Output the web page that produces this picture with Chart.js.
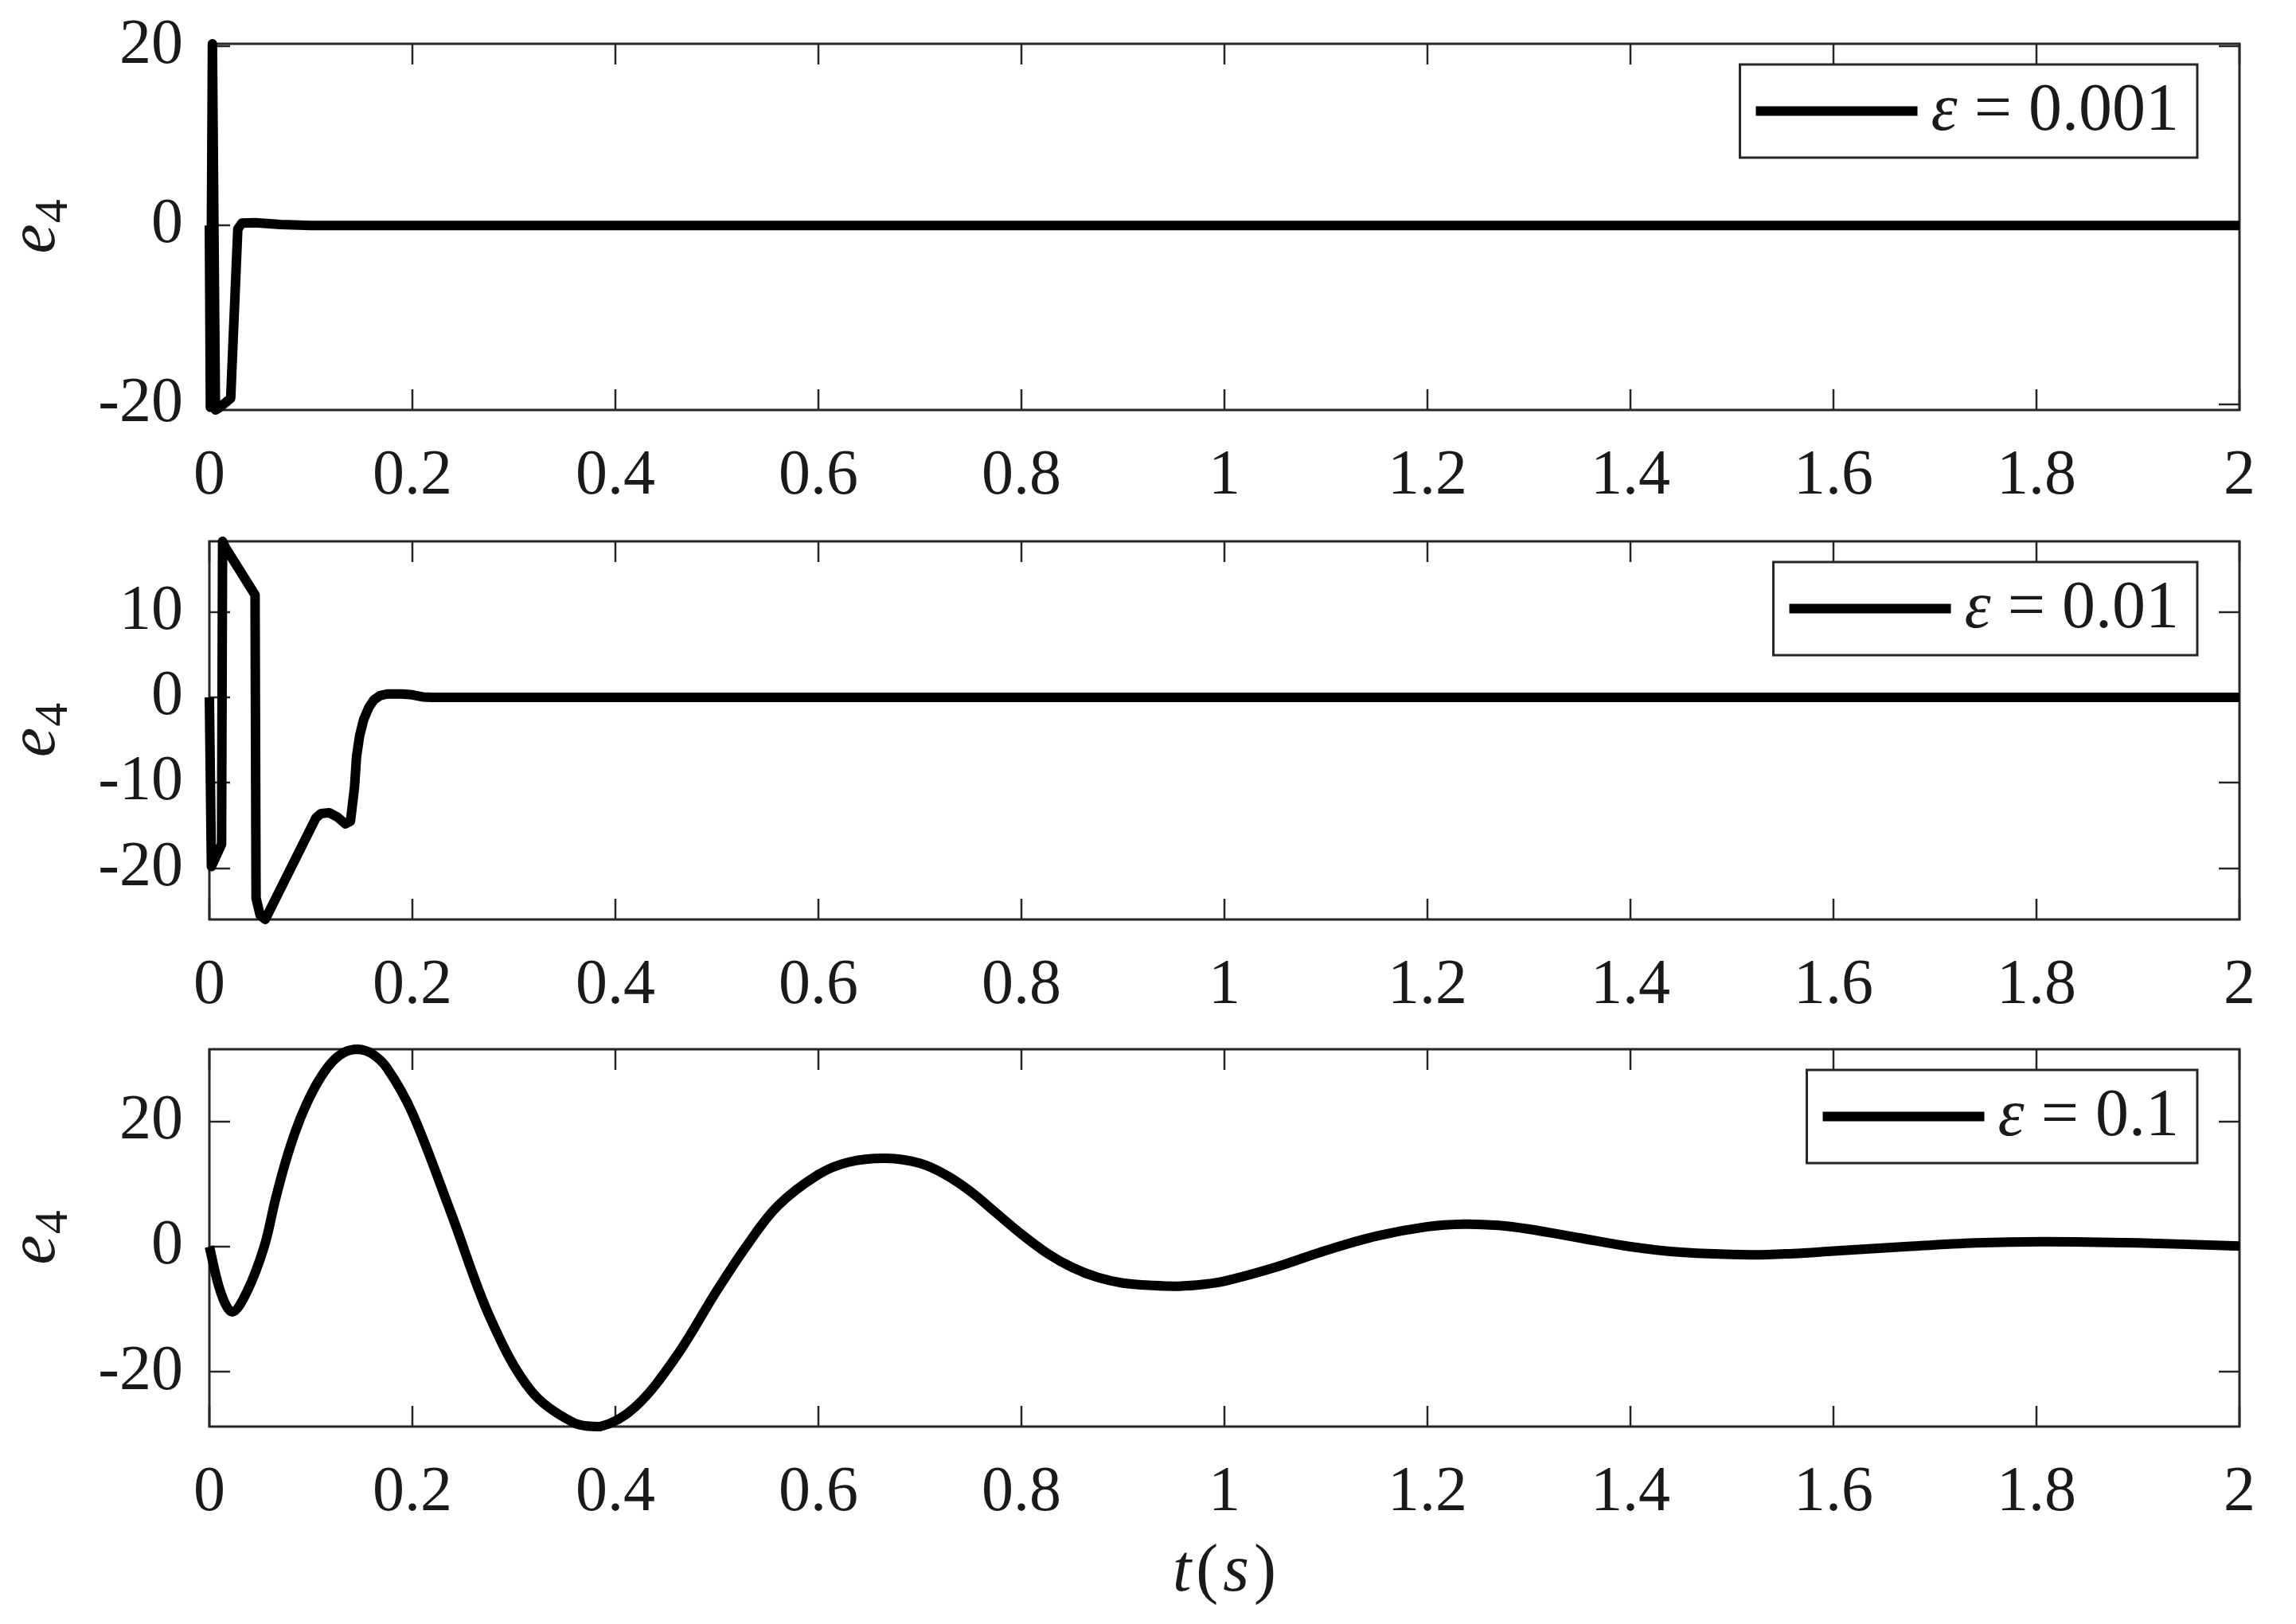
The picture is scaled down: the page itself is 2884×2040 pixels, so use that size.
<!DOCTYPE html>
<html>
<head>
<meta charset="utf-8">
<script src="https://cdn.jsdelivr.net/npm/chart.js@4/dist/chart.umd.min.js"></script>
<style>
  html, body { margin: 0; padding: 0; background: #ffffff; }
  body { width: 2884px; height: 2040px; position: relative; overflow: hidden; }
  .layer { position: absolute; left: 0; top: 0; width: 2884px; height: 2040px; }
</style>
</head>
<body>
<div class="layer"><canvas id="c1"></canvas></div>
<div class="layer"><canvas id="c2"></canvas></div>
<div class="layer"><canvas id="c3"></canvas></div>
<script>
// ---------------- data ----------------
const tTicks = [0, 0.2, 0.4, 0.6, 0.8, 1, 1.2, 1.4, 1.6, 1.8, 2];
const tTickLabels = ['0', '0.2', '0.4', '0.6', '0.8', '1', '1.2', '1.4', '1.6', '1.8', '2'];

const yTicks1 = [-20, 0, 20];
const yTicks2 = [-20, -10, 0, 10];
const yTicks3 = [-20, 0, 20];

const yRange1 = [-20.6, 20.27];
const yRange2 = [-26.0, 18.27];
const yRange3 = [-28.7, 31.5];

const legendLabels = ['ε = 0.001', 'ε = 0.01', 'ε = 0.1'];
const yTitleParts = ['e', '4'];
const xTitleParts = ['t', '(', 's', ')'];

// panel 1 : epsilon = 0.001
const t1 = [0, 0.001, 0.003, 0.006, 0.009, 0.021, 0.028, 0.032, 0.045, 0.07, 0.1, 2];
const e1 = [0, -20.3, 20.27, -20.6, -20.4, -19.3, -0.4, 0.25, 0.3, 0.1, 0, 0];

// panel 2 : epsilon = 0.01
const t2 = [0, 0.002, 0.012, 0.013, 0.016, 0.045, 0.046, 0.05, 0.055, 0.105, 0.11, 0.118, 0.126, 0.134, 0.139,
            0.143, 0.145, 0.148, 0.152, 0.157, 0.162, 0.168, 0.175, 0.19, 0.2, 0.21, 0.22, 2];
const e2 = [0, -19.8, -17.2, 18.27, 17.5, 12.0, -23.5, -25.5, -26.0, -14.1, -13.6, -13.5, -14.0, -14.8, -14.5,
            -10.5, -6.9, -4.5, -2.6, -1.2, -0.3, 0.2, 0.4, 0.4, 0.3, 0.05, 0, 0];

// panel 3 : epsilon = 0.1
const t3 = [0, 0.011, 0.0225, 0.037, 0.054, 0.065, 0.075, 0.085, 0.095, 0.107, 0.12, 0.133, 0.146, 0.16, 0.175,
            0.2, 0.238, 0.277, 0.317, 0.358, 0.385, 0.42, 0.46, 0.5, 0.53, 0.56, 0.6, 0.63, 0.667, 0.7,
            0.725, 0.75, 0.775, 0.8, 0.825, 0.85, 0.875, 0.9, 0.93, 0.955, 0.98, 1.0, 1.05, 1.1, 1.15, 1.2,
            1.236, 1.27, 1.3, 1.35, 1.4, 1.45, 1.518, 1.56, 1.6, 1.67, 1.74, 1.806, 1.9, 2.0];
const e3 = [0, -7.2, -10.4, -7.2, 0, 7.5, 13.5, 18.5, 22.5, 26.3, 29.3, 31, 31.5, 30.8, 28.5,
            21.3, 5.4, -11.5, -23, -28, -28.7, -25.5, -17.5, -7, 0.3, 6.5, 11.5, 13.5, 14.1, 13.3,
            11.5, 8.8, 5.4, 2, -1, -3.3, -4.9, -5.8, -6.2, -6.3, -6.0, -5.5, -3.3, -0.6, 1.7, 3.2,
            3.6, 3.4, 2.8, 1.4, 0, -0.9, -1.3, -1.1, -0.7, 0, 0.6, 0.8, 0.6, 0.1];

// ---------------- style ----------------
const SERIF = "'Liberation Serif', 'Times New Roman', serif";
const AXIS_COLOR = '#262626';
const TEXT_COLOR = '#1a1a1a';
const TICK_LEN = 26;
const PAGE_H = 2040;
const AREA_LEFT = 263;
const AREA_RIGHT_PAD = 71;

const matlabAxes = {
  id: 'matlabAxes',
  beforeDatasetsDraw(chart) {
    const { ctx, chartArea: a, scales: { x, y } } = chart;
    ctx.save();
    ctx.strokeStyle = AXIS_COLOR;
    ctx.lineWidth = 2.5;
    ctx.beginPath();
    x.ticks.forEach(tk => {
      const px = Math.round(x.getPixelForValue(tk.value));
      ctx.moveTo(px, a.bottom); ctx.lineTo(px, a.bottom - TICK_LEN);
      ctx.moveTo(px, a.top); ctx.lineTo(px, a.top + TICK_LEN);
    });
    y.ticks.forEach(tk => {
      const py = Math.round(y.getPixelForValue(tk.value));
      ctx.moveTo(a.left, py); ctx.lineTo(a.left + TICK_LEN, py);
      ctx.moveTo(a.right, py); ctx.lineTo(a.right - TICK_LEN, py);
    });
    ctx.stroke();
    ctx.lineWidth = 3;
    ctx.strokeRect(a.left, a.top, a.right - a.left, a.bottom - a.top);
    ctx.restore();
  },
  afterDatasetsDraw(chart, args, opts) {
    const { ctx, chartArea: a } = chart;
    const ds = chart.data.datasets[0];
    ctx.save();
    // ---- legend ----
    const label = ds.label;
    const sym = label.slice(0, 1), rest = label.slice(1);
    ctx.font = `italic 84px ${SERIF}`;
    const wSym = ctx.measureText(sym).width;
    ctx.font = `84px ${SERIF}`;
    const wRest = ctx.measureText(rest).width;
    const boxW = 20 + 203 + 17 + wSym + wRest + 23;
    const boxH = 117;
    const right = a.right - 53;
    const left = right - boxW;
    const top = a.top + 26;
    ctx.fillStyle = '#ffffff';
    ctx.fillRect(left, top, boxW, boxH);
    ctx.strokeStyle = AXIS_COLOR;
    ctx.lineWidth = 3;
    ctx.strokeRect(left, top, boxW, boxH);
    const cy = top + boxH / 2;
    ctx.strokeStyle = ds.borderColor;
    ctx.lineWidth = 12;
    ctx.beginPath();
    ctx.moveTo(left + 20, cy); ctx.lineTo(left + 223, cy);
    ctx.stroke();
    ctx.fillStyle = TEXT_COLOR;
    ctx.textAlign = 'left';
    ctx.textBaseline = 'alphabetic';
    ctx.font = `italic 84px ${SERIF}`;
    ctx.fillText(sym, left + 240, cy + 23);
    ctx.font = `84px ${SERIF}`;
    ctx.fillText(rest, left + 240 + wSym, cy + 23);

    // ---- y title (e_4) ----
    ctx.save();
    ctx.translate(68, (a.top + a.bottom) / 2);
    ctx.rotate(-Math.PI / 2);
    ctx.font = `italic 84px ${SERIF}`;
    const we = ctx.measureText(yTitleParts[0]).width;
    ctx.font = `60px ${SERIF}`;
    const w4 = ctx.measureText(yTitleParts[1]).width;
    const st = -(we + w4) / 2;
    ctx.font = `italic 84px ${SERIF}`;
    ctx.fillText(yTitleParts[0], st, 0);
    ctx.font = `60px ${SERIF}`;
    ctx.fillText(yTitleParts[1], st + we + 1, 16);
    ctx.restore();

    // ---- x title t(s) ----
    if (opts && opts.xTitle) {
      const styles = ['italic ', '', 'italic ', ''];
      const gap = 6;
      const widths = xTitleParts.map((p, i) => {
        ctx.font = `${styles[i]}84px ${SERIF}`;
        return ctx.measureText(p).width;
      });
      const total = widths.reduce((s, w) => s + w, 0) + gap * (xTitleParts.length - 1);
      let xx = (a.left + a.right) / 2 - total / 2;
      xTitleParts.forEach((p, i) => {
        ctx.font = `${styles[i]}84px ${SERIF}`;
        ctx.fillText(p, xx, 1998);
        xx += widths[i] + gap;
      });
    }
    ctx.restore();
  }
};

function makeChart(id, t, e, yTicks, yRange, label, areaTop, areaBottom, xTitle, tension) {
  const ctx = document.getElementById(id);
  return new Chart(ctx, {
    type: 'line',
    data: {
      datasets: [{
        label: label,
        data: t.map((x, i) => ({ x: x, y: e[i] })),
        borderColor: '#000000',
        backgroundColor: '#000000',
        borderWidth: 12,
        borderJoinStyle: 'round',
        borderCapStyle: 'butt',
        pointRadius: 0,
        fill: false,
        clip: false,
        tension: tension
      }]
    },
    options: {
      responsive: true,
      maintainAspectRatio: false,
      devicePixelRatio: 1,
      animation: false,
      events: [],
      layout: { padding: { top: areaTop, left: 0, right: AREA_RIGHT_PAD, bottom: 0 } },
      plugins: {
        legend: { display: false },
        tooltip: { enabled: false },
        matlabAxes: { xTitle: xTitle }
      },
      scales: {
        x: {
          type: 'linear',
          min: 0,
          max: 2,
          grid: { display: false, drawTicks: false },
          border: { display: false },
          afterBuildTicks: s => { s.ticks = tTicks.map(v => ({ value: v })); },
          ticks: {
            autoSkip: false,
            maxRotation: 0,
            padding: 36,
            color: TEXT_COLOR,
            font: { family: SERIF, size: 80 },
            callback: (v, i) => tTickLabels[i]
          },
          afterFit: s => { s.height = PAGE_H - areaBottom; s.paddingLeft = 0; s.paddingRight = 0; }
        },
        y: {
          type: 'linear',
          min: yRange[0],
          max: yRange[1],
          grid: { display: false, drawTicks: false },
          border: { display: false },
          afterBuildTicks: s => { s.ticks = yTicks.map(v => ({ value: v })); },
          ticks: {
            padding: 33,
            color: TEXT_COLOR,
            font: { family: SERIF, size: 80 },
            callback: v => String(v)
          },
          afterFit: s => { s.width = AREA_LEFT; s.paddingTop = 0; s.paddingBottom = 0; }
        }
      }
    },
    plugins: [matlabAxes]
  });
}

makeChart('c1', t1, e1, yTicks1, yRange1, legendLabels[0], 55, 515, false, 0);
makeChart('c2', t2, e2, yTicks2, yRange2, legendLabels[1], 680, 1155, false, 0);
makeChart('c3', t3, e3, yTicks3, yRange3, legendLabels[2], 1318, 1792, true, 0.35);
</script>
</body>
</html>
